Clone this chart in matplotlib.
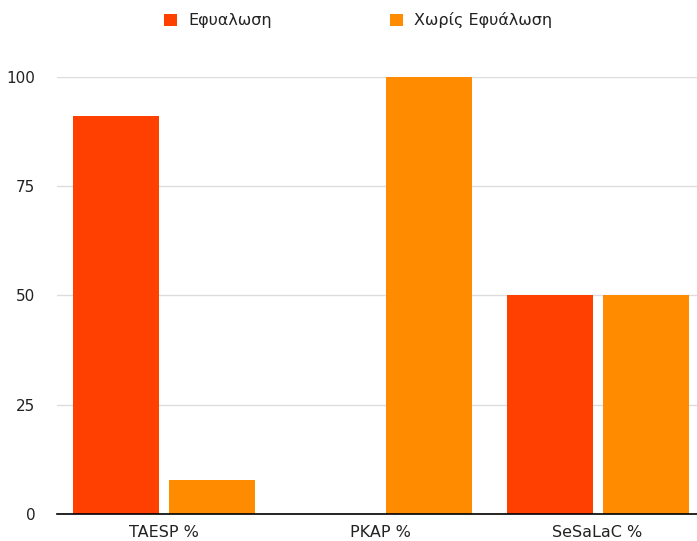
import matplotlib
matplotlib.use("Agg")
import matplotlib.pyplot as plt
import numpy as np
from matplotlib.patches import Patch

categories = ["TAESP %", "PKAP %", "SeSaLaC %"]
series_names = ["Εφυαλωση", "Χωρίς Εφυάλωση"]
efyalosi = [91, 0, 50]
xoris_efyalosi = [7.7, 100, 50]
yticks = [0, 25, 50, 75, 100]

colors = ["#FF4000", "#FF8C00"]

plt.rcParams['font.family'] = ['DejaVu Sans']
fig = plt.figure(figsize=(6.97, 5.41), dpi=100)
ax = fig.add_axes([57/697, 27/541, 640/697, (514-76.7)/541])

x = np.arange(len(categories))
w = 0.397
off = 0.2215
ax.bar(x - off, efyalosi, w, color=colors[0], zorder=3)
ax.bar(x + off, xoris_efyalosi, w, color=colors[1], zorder=3)

ax.set_xlim(-0.495, 2.459)
ax.set_ylim(0, 100)
ax.set_yticks(yticks)
ax.set_yticklabels([str(t) for t in yticks])
ax.set_xticks(x)
ax.set_xticklabels(categories)
ax.yaxis.grid(True, color="#dddddd", linewidth=1, zorder=0)
for s in ["top", "right", "left"]:
    ax.spines[s].set_visible(False)
ax.spines["bottom"].set_color("#000000")
ax.spines["bottom"].set_linewidth(1.2)
ax.spines["bottom"].set_zorder(4)
ax.tick_params(axis="y", length=0, pad=15.5, labelsize=11, labelcolor="#222222")
ax.tick_params(axis="x", length=0, pad=8, labelsize=11.5, labelcolor="#222222")

handles = [Patch(facecolor=c, edgecolor="none") for c in colors]
fig.legend(handles, series_names, loc="center", bbox_to_anchor=(358/697, 1 - 20.5/541),
           ncol=2, frameon=False, fontsize=11.5, handlelength=0.8, handleheight=0.7,
           handletextpad=0.7, columnspacing=7.4, labelcolor="#222222")

fig.savefig("out.png", dpi=100)
